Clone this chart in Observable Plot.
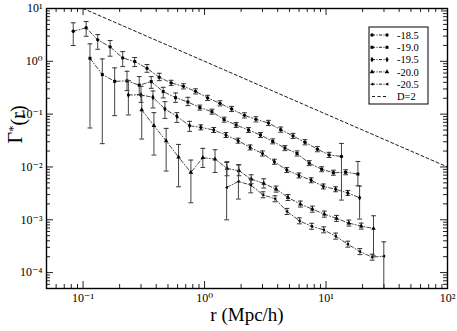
<!DOCTYPE html>
<html><head><meta charset="utf-8">
<script src="https://cdn.jsdelivr.net/npm/d3@7"></script>
<script src="https://cdn.jsdelivr.net/npm/@observablehq/plot@0.6"></script>
<style>html,body{margin:0;padding:0;background:#fff}#chart svg{display:block}#chart svg text{font-family:"Liberation Serif","DejaVu Serif",serif !important}</style>
</head><body><div id="chart"></div>
<script>
// ---- data ----
const seriesNames = ["-18.5", "-19.0", "-19.5", "-20.0", "-20.5"];

const r185 = [0.083,0.106,0.132,0.167,0.212,0.266,0.336,0.424,0.531,0.671,0.843,1.06,1.34,1.67,2.13,2.65,3.36,4.24,5.35,6.71,8.49,10.6,13.4];
const g185 = [3.71,4.31,2.55,1.88,1.16,0.99,0.738,0.498,0.390,0.336,0.270,0.203,0.160,0.125,0.0948,0.0796,0.068,0.0508,0.0386,0.0294,0.0217,0.0169,0.0158];
const lo185 = [1.99,2.98,1.69,1.25,0.795,0.795,0.62,0.431,0.348,0.300,0.241,0.181,0.143,0.112,0.0846,0.0711,0.0607,0.0454,0.0345,0.0262,0.0194,0.0151,0.00236];
const hi185 = [5.36,5.67,3.21,2.48,1.53,1.18,0.87,0.593,0.437,0.376,0.302,0.227,0.179,0.140,0.106,0.0892,0.0762,0.0569,0.0432,0.0329,0.0243,0.0189,0.0279];

const r190 = [0.114,0.144,0.182,0.230,0.290,0.364,0.457,0.578,0.729,0.915,1.15,1.45,1.82,2.30,2.89,3.64,4.59,5.77,7.27,9.20,11.5,14.5,18.3];
const g190 = [1.14,0.561,0.418,0.426,0.354,0.413,0.267,0.205,0.170,0.133,0.111,0.0786,0.0623,0.0501,0.0403,0.0305,0.0228,0.0180,0.0118,0.00906,0.00777,0.00794,0.00734];
const lo190 = [0.0547,0.0276,0.0936,0.279,0.234,0.308,0.203,0.167,0.145,0.119,0.0996,0.0705,0.0559,0.0449,0.0361,0.0274,0.0204,0.0161,0.0106,0.00813,0.00697,0.00712,0.0044];
const hi190 = [2.14,1.11,0.751,0.648,0.514,0.514,0.322,0.252,0.208,0.148,0.124,0.0876,0.0695,0.0559,0.0449,0.0340,0.0254,0.0201,0.0132,0.0101,0.00866,0.00885,0.0127];

const r195 = [0.236,0.300,0.376,0.472,0.592,0.753,0.932,1.19,1.50,1.89,2.37,3.00,3.76,4.75,5.99,7.55,9.51,12.0,15.1,18.9];
const g195 = [0.231,0.231,0.208,0.125,0.0908,0.0605,0.0561,0.0501,0.0403,0.0314,0.0234,0.0180,0.01256,0.00874,0.00691,0.00560,0.00427,0.00378,0.00322,0.00261];
const lo195 = [0.0965,0.167,0.131,0.0832,0.0698,0.0472,0.0503,0.0449,0.0361,0.0282,0.0210,0.0161,0.01126,0.00784,0.00620,0.00502,0.00383,0.00339,0.00289,0.00103];
const hi195 = [0.431,0.336,0.275,0.172,0.1067,0.0730,0.0626,0.0559,0.0449,0.0350,0.0261,0.0201,0.0140,0.00975,0.00770,0.00624,0.00476,0.00421,0.00359,0.00435];

const r200 = [0.304,0.383,0.483,0.611,0.772,0.968,1.22,1.53,1.92,2.42,3.07,3.88,4.86,6.15,7.72,9.69,12.2,15.4,19.5,24.6];
const g200 = [0.120,0.0605,0.0310,0.0154,0.00787,0.0150,0.0141,0.00937,0.00848,0.00590,0.00487,0.00381,0.00264,0.00198,0.00159,0.00128,0.00106,0.000865,0.000759,0.000683];
const lo200 = [0.0338,0.0168,0.00837,0.00422,0.00210,0.00979,0.00787,0.00682,0.00682,0.00481,0.00399,0.00334,0.00232,0.00174,0.00139,0.00112,0.00093,0.000759,0.000666,0.000207];
const hi200 = [0.224,0.1067,0.0537,0.0267,0.0135,0.0225,0.0212,0.01256,0.0110,0.00712,0.00598,0.00434,0.00301,0.00226,0.00181,0.00146,0.00121,0.000986,0.000865,0.00119];

const r205 = [1.52,1.90,2.40,3.03,3.80,4.77,6.04,7.62,9.56,12.0,15.1,19.0,24.0,29.9];
const g205 = [0.00409,0.00531,0.00454,0.00297,0.00250,0.00144,0.000955,0.000752,0.000645,0.000490,0.000345,0.000250,0.000196,0.000205];
const lo205 = [0.000998,0.00247,0.00324,0.00261,0.00219,0.00126,0.000838,0.000660,0.000566,0.000430,0.000303,0.000219,0.000172,0.00001];
const hi205 = [0.0122,0.0110,0.00598,0.00339,0.00285,0.00164,0.00109,0.000857,0.000735,0.000559,0.000393,0.000285,0.000223,0.000382];

// D=2 reference line
const refName = "D=2";
const refR = [0.1, 100];
const refG = [10, 0.01];

// axis ticks & labels
const xMajor = [0.1, 1, 10, 100];
const xTickLabels = ["10\u207B\u00B9", "10\u2070", "10\u00B9", "10\u00B2"];
const yMajor = [1e-4, 1e-3, 1e-2, 1e-1, 1, 10];
const yTickLabels = ["10\u207B\u2074", "10\u207B\u00B3", "10\u207B\u00B2", "10\u207B\u00B9", "10\u2070", "10\u00B9"];
const xTitle = "r (Mpc/h)";
const yTitle = "\u0393*(r)";

// ---- build ----
const FONT = "'Liberation Serif', 'DejaVu Serif', serif";
const rs = [r185, r190, r195, r200, r205];
const gs = [g185, g190, g195, g200, g205];
const los = [lo185, lo190, lo195, lo200, lo205];
const his = [hi185, hi190, hi195, hi200, hi205];
const series = seriesNames.map((name, k) => rs[k].map((r, i) => ({name, r, g: gs[k][i], lo: los[k][i], hi: his[k][i]})));
const refData = refR.map((r, i) => ({r, g: refG[i]}));

const triLeft = {draw(ctx, size) { const a = Math.sqrt(size) * 0.62; ctx.moveTo(-a, 0); ctx.lineTo(a * 0.7, -a * 0.85); ctx.lineTo(a * 0.7, a * 0.85); ctx.closePath(); }};
const symbols = ["circle", "square", "diamond", "triangle", triLeft];
const capSym = {draw(ctx) { ctx.moveTo(-2.4, 0); ctx.lineTo(2.4, 0); }};

const W = 457, H = 331, mL = 46, mR = 10, mT = 8, mB = 43;
const fw = W - mL - mR, fh = H - mT - mB;
const xDomain = [0.05, 100], yDomain = [5e-5, 10];

function minors(lo, hi) {
  const out = [];
  for (let e = Math.floor(Math.log10(lo)); e <= Math.ceil(Math.log10(hi)); e++)
    for (let m = 2; m <= 9; m++) { const v = m * Math.pow(10, e); if (v >= lo * 0.999 && v <= hi * 1.001) out.push(v); }
  return out;
}
const xMinor = minors(...xDomain), yMinor = minors(...yDomain);
const xLab = new Map(xMajor.map((v, i) => [v, xTickLabels[i]]));
const yLab = new Map(yMajor.map((v, i) => [v, yTickLabels[i]]));

const ink = "#222";
const marks = [];
marks.push(Plot.line(refData, {x: "r", y: "g", stroke: "#000", strokeWidth: 0.9, strokeDasharray: "3,2.5"}));
series.forEach((data, k) => {
  marks.push(Plot.ruleX(data, {x: "r", y1: "lo", y2: "hi", stroke: "#444", strokeWidth: 1, clip: true}));
  marks.push(Plot.dot(data, {x: "r", y: "hi", symbol: capSym, fill: "none", stroke: "#333", strokeWidth: 1, clip: true}));
  marks.push(Plot.dot(data, {x: "r", y: "lo", symbol: capSym, fill: "none", stroke: "#333", strokeWidth: 1, clip: true}));
  marks.push(Plot.line(data, {x: "r", y: "g", stroke: "#333", strokeWidth: 0.9, strokeDasharray: "4,2,1,2"}));
  marks.push(Plot.dot(data, {x: "r", y: "g", symbol: symbols[k], r: 1.7, fill: "#000", stroke: "none"}));
});
marks.push(Plot.tickX(xMajor, {x: d => d, insetTop: fh - 7, stroke: ink}));
marks.push(Plot.tickX(xMinor, {x: d => d, insetTop: fh - 4, stroke: ink}));
marks.push(Plot.tickX(xMajor, {x: d => d, insetBottom: fh - 7, stroke: ink}));
marks.push(Plot.tickX(xMinor, {x: d => d, insetBottom: fh - 4, stroke: ink}));
marks.push(Plot.tickY(yMajor, {y: d => d, insetRight: fw - 7, stroke: ink}));
marks.push(Plot.tickY(yMinor, {y: d => d, insetRight: fw - 4, stroke: ink}));
marks.push(Plot.tickY(yMajor, {y: d => d, insetLeft: fw - 7, stroke: ink}));
marks.push(Plot.tickY(yMinor, {y: d => d, insetLeft: fw - 4, stroke: ink}));
marks.push(Plot.frame({stroke: "#000", strokeWidth: 1.4}));
marks.push(Plot.text(xMajor, {x: d => d, frameAnchor: "bottom", dy: 13, text: d => xLab.get(d), fontSize: 12, fontFamily: FONT, fill: "#000"}));
marks.push(Plot.text(yMajor, {y: d => d, frameAnchor: "left", dx: -4, textAnchor: "end", text: d => yLab.get(d), fontSize: 12, fontFamily: FONT, fill: "#000"}));
marks.push(Plot.text([xTitle], {text: d => d, frameAnchor: "bottom", dy: 32, fontSize: 19, fontFamily: FONT, fill: "#000"}));
marks.push(Plot.text([yTitle], {text: d => d, frameAnchor: "left", dx: -31, dy: -5, rotate: -90, fontSize: 20, fontFamily: FONT, fill: "#000"}));

const chart = Plot.plot({
  width: W, height: H,
  marginLeft: mL, marginRight: mR, marginTop: mT, marginBottom: mB,
  x: {type: "log", domain: xDomain, axis: null},
  y: {type: "log", domain: yDomain, axis: null},
  style: {fontFamily: FONT, background: "#fff", color: "#000", overflow: "visible"},
  marks
});
document.getElementById("chart").appendChild(chart);

const svg = d3.select(chart);
svg.selectAll("text").each(function () {
  const t = d3.select(this);
  if (t.text() === yTitle) {
    t.text(null);
    t.append("tspan").text("\u0393");
    t.append("tspan").attr("dy", "-0.4em").attr("font-size", "13").text("*");
    t.append("tspan").attr("dy", "0.4em").text("(r)");
  }
});

// legend box
const lx = 369, ly = 27, lw = 59, lh = 77, rowH = 12.3;
const lg = svg.append("g").attr("font-family", FONT).attr("text-anchor", "start");
lg.append("rect").attr("x", lx).attr("y", ly).attr("width", lw).attr("height", lh).attr("fill", "#fff").attr("stroke", "#000").attr("stroke-width", 1);
const entries = seriesNames.concat([refName]);
entries.forEach((name, i) => {
  const cy = ly + 8 + i * rowH;
  const isRef = i === seriesNames.length;
  lg.append("line").attr("x1", lx + 3).attr("x2", lx + 18).attr("y1", cy).attr("y2", cy)
    .attr("stroke", "#000").attr("stroke-width", 0.9).attr("stroke-dasharray", isRef ? "3,2.5" : "3,1.5,1,1.5");
  if (!isRef) {
    const s = symbols[i];
    const st = typeof s === "string" ? {circle: d3.symbolCircle, square: d3.symbolSquare, diamond: d3.symbolDiamond, triangle: d3.symbolTriangle}[s] : s;
    const p = d3.symbol(st, 1.7 * 1.7 * Math.PI)();
    [lx + 3, lx + 18].forEach(x => lg.append("path").attr("d", p).attr("transform", `translate(${x},${cy})`).attr("fill", "#000"));
  }
  lg.append("text").attr("x", lx + 28).attr("y", cy).attr("dy", "0.35em").attr("text-anchor", "start").attr("font-size", 10.5).attr("fill", "#000").text(name);
});
</script>
</body></html>
